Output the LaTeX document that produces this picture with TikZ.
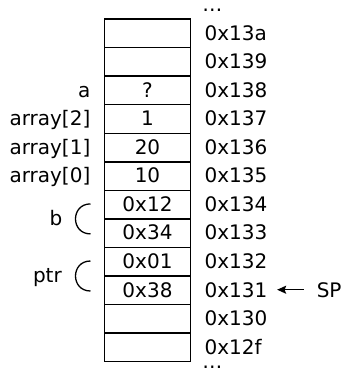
\documentclass[tikz,border=0pt]{standalone}
\usepackage{fontspec}
\setmainfont{DejaVu Sans}
\usetikzlibrary{arrows.meta}
\begin{document}
\begin{tikzpicture}[x=1pt,y=-1pt,
  every node/.style={font=\fontsize{20}{24}\selectfont},
  cell/.style={draw,line width=1.4pt,minimum width=86pt,minimum height=28.56pt,
    inner sep=0pt,text height=13.4pt,text depth=0pt,anchor=center},
  addr/.style={anchor=base west,inner sep=0pt},
  lbl/.style={anchor=base east,inner sep=0pt},
  dots/.style={anchor=base west,inner sep=0pt},
  brace/.style={line width=1.3pt},
  ptrarrow/.style={line width=1.3pt,-{Stealth[length=9pt,width=8pt,inset=1.5pt]}}]
\useasboundingbox (0,0) rectangle (345,368);
% cells
\node[cell] (c0)  at (147.5,33.28)  {};
\node[cell] (c1)  at (147.5,61.84)  {};
\node[cell] (c2)  at (147.5,90.40)  {?};
\node[cell] (c3)  at (147.5,118.96) {1};
\node[cell] (c4)  at (147.5,147.52) {20};
\node[cell] (c5)  at (147.5,176.08) {10};
\node[cell] (c6)  at (147.5,204.64) {0x12};
\node[cell] (c7)  at (147.5,233.20) {0x34};
\node[cell] (c8)  at (147.5,261.76) {0x01};
\node[cell] (c9)  at (147.5,290.32) {0x38};
\node[cell] (c10) at (147.5,318.88) {};
\node[cell] (c11) at (147.5,347.44) {};
% addresses
\node[dots] (dtop) at (202.2,11.3) {…};
\node[addr] (m0)  at (204.4,40.0)  {0x13a};
\node[addr] (m1)  at (204.4,68.5)  {0x139};
\node[addr] (m2)  at (204.4,97.1)  {0x138};
\node[addr] (m3)  at (204.4,125.7) {0x137};
\node[addr] (m4)  at (204.4,154.2) {0x136};
\node[addr] (m5)  at (204.4,182.8) {0x135};
\node[addr] (m6)  at (204.4,211.3) {0x134};
\node[addr] (m7)  at (204.4,239.9) {0x133};
\node[addr] (m8)  at (204.4,268.5) {0x132};
\node[addr] (m9)  at (204.4,297.0) {0x131};
\node[addr] (m10) at (204.4,325.6) {0x130};
\node[addr] (m11) at (204.4,354.1) {0x12f};
\node[dots] (dbot) at (202.2,368.0) {…};
% labels
\node[lbl] (la)  at (90.5,97.1)  {a};
\node[lbl] (la2) at (90.5,125.7) {array[2]};
\node[lbl] (la1) at (90.5,154.2) {array[1]};
\node[lbl] (la0) at (90.5,182.8) {array[0]};
\node[lbl] (lb)  at (62.5,225.0) {b};
\node[lbl] (lp)  at (62.0,282.1) {ptr};
% brackets
\draw[brace] (90.5,203.9) .. controls (70.5,203.9) and (70.5,233.9) .. (90.5,233.9);
\draw[brace] (90.5,261.0) .. controls (70.5,261.0) and (70.5,291.0) .. (90.5,291.0);
% stack pointer
\node[addr] (sp) at (316.6,297.0) {SP};
\draw[ptrarrow,shorten <=12.6pt,shorten >=9.6pt] (sp.west) -- (m9.east);
\end{tikzpicture}
\end{document}
